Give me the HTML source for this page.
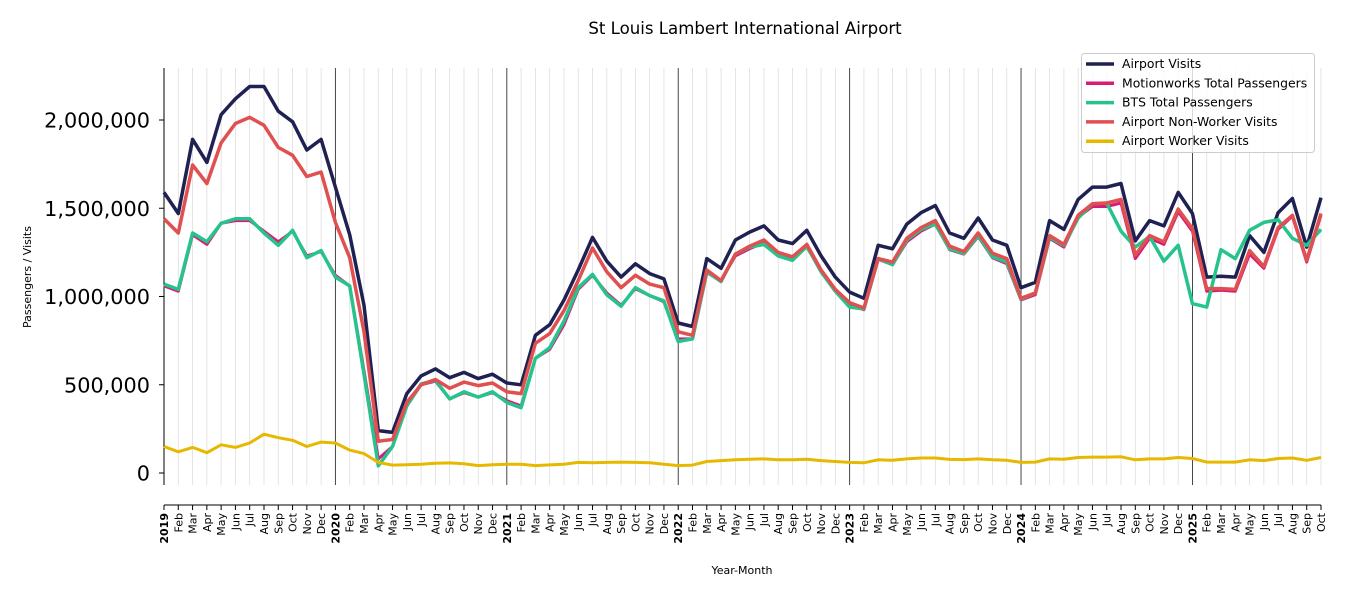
<!DOCTYPE html>
<html><head><meta charset="utf-8"><style>
body{margin:0;background:#fff;font-family:"Liberation Sans","DejaVu Sans",sans-serif}
</style></head><body>
<svg width="1350" height="600" xmlns="http://www.w3.org/2000/svg" font-family="DejaVu Sans, Liberation Sans, sans-serif">
<text x="745" y="34" text-anchor="middle" font-size="16.6">St Louis Lambert International Airport</text>
<g id="grid"></g><g id="axes"></g><g id="lines"></g>
<text transform="translate(31,277) rotate(-90)" text-anchor="middle" font-size="11">Passengers / Visits</text>
<text x="742" y="574" text-anchor="middle" font-size="11">Year-Month</text>
<g>
<rect x="1081.5" y="53.5" width="233" height="99" rx="3" fill="#fff" fill-opacity="0.8" stroke="#ccc"/>
<g id="legend"></g></g>
</svg>
<script>
const years=['2019','2020','2021','2022','2023','2024','2025'];
const monthNames=['Feb','Mar','Apr','May','Jun','Jul','Aug','Sep','Oct','Nov','Dec'];
const yTicks=[0,500000,1000000,1500000,2000000];
const airportVisits=[1590000,1470000,1890000,1760000,2030000,2120000,2190000,2190000,2050000,1990000,1830000,1890000,
1620000,1350000,950000,240000,230000,450000,550000,590000,540000,570000,535000,560000,
510000,500000,780000,840000,980000,1150000,1335000,1200000,1110000,1185000,1130000,1100000,
850000,830000,1215000,1160000,1320000,1365000,1400000,1320000,1300000,1375000,1230000,1110000,
1025000,990000,1290000,1270000,1410000,1475000,1515000,1360000,1330000,1445000,1320000,1290000,
1050000,1080000,1430000,1380000,1550000,1620000,1620000,1640000,1315000,1430000,1400000,1590000,
1470000,1110000,1115000,1110000,1345000,1250000,1475000,1555000,1280000,1560000];
const motionworks=[1060000,1030000,1350000,1295000,1415000,1430000,1430000,1370000,1310000,1370000,1230000,1255000,
1120000,1060000,580000,80000,150000,380000,500000,520000,420000,455000,430000,455000,
410000,380000,650000,700000,840000,1040000,1120000,1020000,950000,1045000,1005000,970000,
760000,760000,1135000,1090000,1230000,1270000,1305000,1230000,1215000,1280000,1150000,1040000,
955000,925000,1210000,1180000,1310000,1370000,1410000,1265000,1240000,1340000,1220000,1185000,
980000,1010000,1330000,1280000,1450000,1510000,1510000,1530000,1215000,1330000,1295000,1480000,
1370000,1030000,1035000,1030000,1240000,1160000,1380000,1455000,1195000,1460000];
const bts=[1070000,1040000,1360000,1310000,1415000,1440000,1440000,1360000,1290000,1375000,1220000,1260000,
1110000,1060000,560000,40000,150000,380000,505000,525000,420000,460000,430000,460000,
400000,370000,650000,710000,860000,1050000,1125000,1010000,945000,1050000,1005000,975000,
745000,760000,1140000,1085000,1240000,1280000,1295000,1230000,1205000,1285000,1140000,1030000,
940000,930000,1215000,1180000,1320000,1380000,1410000,1270000,1245000,1345000,1225000,1195000,
985000,1020000,1335000,1290000,1445000,1525000,1530000,1370000,1280000,1340000,1200000,1290000,
960000,940000,1265000,1215000,1375000,1420000,1435000,1330000,1290000,1380000];
const nonWorker=[1440000,1360000,1745000,1640000,1870000,1980000,2015000,1970000,1845000,1800000,1680000,1705000,
1420000,1220000,800000,180000,190000,400000,500000,530000,480000,515000,495000,510000,
460000,450000,735000,790000,920000,1090000,1275000,1140000,1050000,1120000,1070000,1050000,
800000,780000,1150000,1090000,1240000,1285000,1320000,1250000,1225000,1295000,1150000,1040000,
965000,935000,1215000,1195000,1330000,1390000,1430000,1285000,1255000,1360000,1245000,1215000,
990000,1020000,1345000,1295000,1460000,1525000,1530000,1550000,1235000,1345000,1310000,1495000,
1385000,1045000,1045000,1040000,1260000,1170000,1390000,1460000,1205000,1470000];
const worker=[150000,120000,145000,115000,160000,145000,170000,220000,200000,185000,150000,175000,
170000,130000,110000,60000,45000,47000,50000,55000,57000,52000,42000,47000,
50000,50000,42000,46000,50000,60000,58000,60000,62000,60000,58000,50000,
42000,45000,65000,70000,75000,78000,80000,75000,75000,78000,70000,65000,
60000,58000,75000,72000,80000,85000,85000,77000,76000,80000,75000,72000,
60000,62000,80000,78000,88000,90000,90000,92000,75000,80000,80000,88000,
82000,62000,62000,62000,75000,70000,82000,85000,72000,88000];
const seriesNames=['Airport Visits','Motionworks Total Passengers','BTS Total Passengers','Airport Non-Worker Visits','Airport Worker Visits'];
const NS='http://www.w3.org/2000/svg';
const N=airportVisits.length;
const X0=164,X1=1321,Y0=473,YTOP=120;
const xs=i=>X0+(X1-X0)*i/(N-1);
const ys=v=>Y0-(Y0-YTOP)*v/2000000;
function mk(tag,attrs,parent){const e=document.createElementNS(NS,tag);for(const k in attrs)e.setAttribute(k,attrs[k]);parent.appendChild(e);return e;}
const grid=document.getElementById('grid'),axes=document.getElementById('axes'),lines=document.getElementById('lines'),leg=document.getElementById('legend');
for(let i=0;i<N;i++){
  const x=xs(i),isYear=i%12===0;
  const g=mk('line',{x1:x,x2:x,y1:68,y2:485,stroke:isYear?'#333':'#ddd','stroke-width':isYear?0.9:0.8},grid);
  
  
  mk('line',{x1:x,x2:x,y1:505,y2:510,stroke:'#000','stroke-width':1},axes);
  const lbl=isYear?years[i/12]:monthNames[(i%12)-1];
  const t=mk('text',{transform:`translate(${x+4},${513}) rotate(-90)`,'text-anchor':'end','font-size':11,'font-weight':isYear?'bold':'normal'},axes);
  t.textContent=lbl;
  
  
}
const ls=mk('line',{x1:164,x2:164,y1:68,y2:485,stroke:'#000','stroke-width':1},axes);


const bs=mk('line',{x1:164,x2:1321,y1:505,y2:505,stroke:'#000','stroke-width':1},axes);


yTicks.forEach(v=>{
  const y=ys(v);
  mk('line',{x1:159,x2:164,y1:y,y2:y,stroke:'#000'},axes);
  const t=mk('text',{x:150,y:y+7.5,'text-anchor':'end','font-size':20.8},axes);
  t.textContent=v.toLocaleString('en-US');
  
  
});
const data=[airportVisits,motionworks,bts,nonWorker,worker];
const colors=['#1f2152','#d81b7a','#26c48c','#e05050','#e6b800'];
const widths=[3.5,3,3.5,3.5,3];
[0,1,2,3,4].forEach(s=>{
  const d=data[s].map((v,i)=>(i?'L':'M')+xs(i).toFixed(1)+','+ys(v).toFixed(1)).join('');
  const p=mk('path',{d,fill:'none',stroke:colors[s],'stroke-width':widths[s],'stroke-linejoin':'round'},lines);
  
  
});
seriesNames.forEach((n,s)=>{
  const y=64+s*19.3;
  mk('line',{x1:1086,x2:1114,y1:y,y2:y,stroke:colors[s],'stroke-width':3.5},leg);
  const t=mk('text',{x:1122,y:y+4,'font-size':12.4},leg);
  t.textContent=n;
  
  
});
</script>
</body></html>
